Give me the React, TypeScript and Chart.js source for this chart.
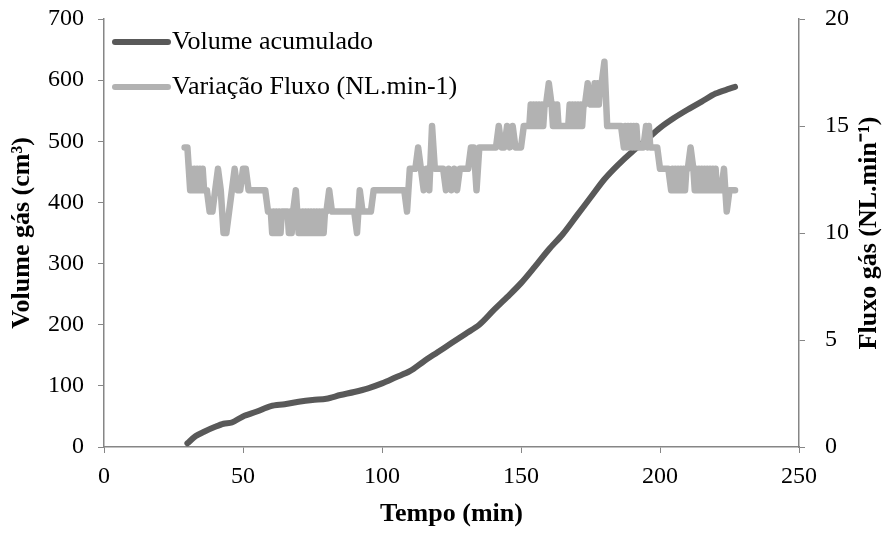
import React, { useEffect, useRef } from "react";
import { Chart, registerables } from "chart.js";

Chart.register(...registerables);

const FONT = "'Liberation Serif', 'Times New Roman', serif";

const volumeMinutes = [30, 33, 36, 40, 43, 46, 50, 55, 60, 65, 70, 75, 80, 85, 90, 95, 100, 105, 110, 115, 120, 125, 130, 135, 140, 145, 150, 155, 160, 165, 170, 175, 180, 185, 190, 195, 200, 205, 210, 215, 220, 225, 227];
const volumeValues = [6, 18, 25, 33, 38, 40, 50, 58, 67, 70, 74, 77, 79, 85, 90, 96, 104, 114, 124, 140, 155, 170, 185, 200, 223, 245, 268, 295, 323, 348, 378, 408, 438, 462, 483, 502, 522, 538, 552, 565, 578, 586, 589];

const flowMinutes = [
  29, 29.5, 30,
  30.5, 31, 31.5, 32, 32.5, 33, 33.5, 34, 34.5, 35, 35.5, 36,
  37, 38, 39, 40, 41, 42, 43, 44, 45, 46, 47, 48, 49, 50, 51, 52,
  53, 54, 55, 56, 57, 58, 59, 60,
  60.5, 61, 61.5, 62, 62.5, 63, 63.5, 64, 65, 66,
  66.5, 67, 67.5, 68, 69, 69.5, 70, 70.5, 71, 71.5, 72, 72.5, 73, 73.5, 74, 74.5, 75, 75.5, 76, 76.5, 77, 77.5, 78, 78.5, 79, 79.5, 80,
  81, 82, 83, 84, 85, 86, 87, 88, 89, 90, 91, 92, 93, 94, 95, 96, 97, 98, 99, 100, 101, 102, 103, 104, 105, 106, 107, 108, 109,
  110, 111, 112, 113, 114, 115, 116, 117, 118, 119, 120, 121, 122, 123, 124, 125, 126, 127, 128, 129, 130, 131,
  132, 133, 134, 135, 136, 137, 138, 139, 140, 141, 142, 143, 144, 145, 146, 147, 148, 149, 150,
  151, 152, 153,
  153.5, 154, 154.5, 155, 155.5, 156, 156.5, 157, 157.5, 158, 158.5, 159, 160, 161, 161.5, 162, 162.5, 163, 163.5, 164, 165, 166, 167,
  167.5, 168, 168.5, 169, 169.5, 170, 170.5, 171, 171.5, 172, 172.5, 173, 174, 175, 176, 176.5, 177, 177.5, 178, 178.5, 179, 180, 181,
  182, 183, 184, 185, 186, 187, 187.5, 188, 188.5, 189, 189.5, 190, 190.5, 191, 191.5, 192, 193, 194, 195, 195.5, 196, 196.5, 197, 198, 199, 200, 201, 202, 203,
  204, 204.5, 205, 205.5, 206, 206.5, 207, 207.5, 208, 208.5, 209, 209.5, 210, 211, 212, 212.5, 213, 213.5, 214, 214.5, 215, 215.5, 216, 216.5, 217, 217.5, 218, 218.5, 219, 219.5, 220, 220.5, 221, 222, 223, 224, 225, 226, 227
];
const flowValues = [
  14, 14, 14,
  13, 12, 13, 12, 13, 12, 13, 12, 13, 12, 13, 12,
  12, 11, 11, 12, 13, 12, 10, 10, 11, 12, 13, 12, 12, 13, 13, 12,
  12, 12, 12, 12, 12, 12, 11, 11,
  10, 11, 10, 11, 10, 11, 10, 11, 11, 11,
  10, 11, 10, 11, 12, 11, 10, 11, 10, 11, 10, 11, 10, 11, 10, 11, 10, 11, 10, 11, 10, 11, 10, 11, 10, 11, 11,
  12, 11, 11, 11, 11, 11, 11, 11, 11, 11, 10, 12, 11, 11, 11, 11, 12, 12, 12, 12, 12, 12, 12, 12, 12, 12, 12, 12, 11,
  13, 13, 13, 14, 13, 12, 13, 12, 15, 13, 13, 13, 13, 12, 13, 12, 13, 12, 13, 13, 13, 13,
  14, 14, 12, 14, 14, 14, 14, 14, 14, 14, 15, 14, 14, 15, 14, 15, 14, 14, 14,
  15, 15, 15,
  16, 15, 16, 15, 16, 15, 16, 15, 16, 15, 16, 16, 17, 16, 15, 16, 15, 16, 15, 15, 15, 15, 15,
  16, 15, 16, 15, 16, 15, 16, 15, 16, 15, 16, 16, 17, 16, 16, 17, 16, 17, 16, 17, 17, 18, 15,
  15, 15, 15, 15, 15, 14, 15, 14, 15, 14, 15, 14, 15, 14, 15, 14, 14, 14, 15, 14, 15, 14, 14, 14, 14, 13, 13, 13, 13,
  12, 13, 12, 13, 12, 13, 12, 13, 12, 13, 12, 13, 13, 14, 13, 12, 13, 12, 13, 12, 13, 12, 13, 12, 13, 12, 13, 12, 13, 12, 13, 12, 12, 12, 13, 11, 12, 12, 12
];

const volumeLabel = "Volume acumulado";
const flowLabel = "Variação Fluxo (NL.min-1)";
const xTitle = "Tempo (min)";
const yTitle = "Volume gás (cm³)";
const y1Title = "Fluxo gás (NL.min⁻¹)";

const DARK = "#595959";
const LIGHT = "#b2b2b2";
const AXIS = "#868686";

const legendPlugin = {
  id: "customLegend",
  afterDraw(chart: any) {
    const ctx = chart.ctx;
    const { left, top } = chart.chartArea;
    const items = [
      { label: volumeLabel, color: DARK, width: 6, dy: 23 },
      { label: flowLabel, color: LIGHT, width: 6, dy: 68 },
    ];
    ctx.save();
    ctx.font = `26px ${FONT}`;
    ctx.textBaseline = "middle";
    ctx.textAlign = "left";
    for (const it of items) {
      const y = top + it.dy;
      ctx.strokeStyle = it.color;
      ctx.lineWidth = it.width;
      ctx.lineCap = "round";
      ctx.beginPath();
      ctx.moveTo(left + 11, y);
      ctx.lineTo(left + 64, y);
      ctx.stroke();
      ctx.fillStyle = "#000";
      ctx.fillText(it.label, left + 68, y);
    }
    ctx.restore();
  },
};

const rightTitlePlugin = {
  id: "rightTitle",
  afterDraw(chart: any) {
    const ctx = chart.ctx;
    const { top, bottom } = chart.chartArea;
    ctx.save();
    ctx.translate(chart.width - 19, (top + bottom) / 2);
    ctx.rotate(-Math.PI / 2);
    ctx.font = `bold 26px ${FONT}`;
    ctx.fillStyle = "#000";
    ctx.textAlign = "center";
    ctx.textBaseline = "middle";
    ctx.fillText(y1Title, 0, 0);
    ctx.restore();
  },
};

function zeroVerticalPadding(scale: any) {
  scale.paddingTop = 0;
  scale.paddingBottom = 0;
}

export default function App() {
  const ref = useRef<HTMLCanvasElement | null>(null);

  useEffect(() => {
    if (!ref.current) return;
    const tickFont = { family: FONT, size: 24 };
    const titleFont = { family: FONT, size: 26, weight: "bold" as const };
    const chart = new Chart(ref.current, {
      type: "line",
      data: {
        datasets: [
          {
            label: volumeLabel,
            data: volumeMinutes.map((m, i) => ({ x: m, y: volumeValues[i] })),
            yAxisID: "y",
            borderColor: DARK,
            backgroundColor: DARK,
            borderWidth: 6,
            borderJoinStyle: "round",
            borderCapStyle: "round",
            pointRadius: 0,
            tension: 0.3,
            order: 2,
          },
          {
            label: flowLabel,
            data: flowMinutes.map((m, i) => ({ x: m, y: flowValues[i] })),
            yAxisID: "y1",
            borderColor: LIGHT,
            backgroundColor: LIGHT,
            borderWidth: 6.5,
            borderJoinStyle: "round",
            borderCapStyle: "round",
            pointRadius: 0,
            tension: 0,
            order: 1,
          },
        ],
      },
      options: {
        animation: false,
        responsive: false,
        maintainAspectRatio: false,
        layout: { padding: { top: 19, left: 0, right: 0, bottom: 0 } },
        plugins: { legend: { display: false }, tooltip: { enabled: false } },
        scales: {
          x: {
            type: "linear",
            position: "bottom",
            min: 0,
            max: 250,
            ticks: { stepSize: 50, font: tickFont, color: "#000", padding: 9, maxRotation: 0 },
            grid: { drawOnChartArea: false, drawTicks: true, tickLength: 6, color: AXIS },
            border: { color: AXIS, width: 1.5 },
            title: { display: true, text: xTitle, font: titleFont, color: "#000", padding: { top: 2, bottom: 3 } },
            afterFit(scale: any) {
              scale.height = 86;
              scale.paddingLeft = 0;
              scale.paddingRight = 0;
            },
          },
          y: {
            position: "left",
            min: 0,
            max: 700,
            ticks: { stepSize: 100, font: tickFont, color: "#000", padding: 14 },
            grid: { drawOnChartArea: false, drawTicks: true, tickLength: 6, color: AXIS },
            border: { color: AXIS, width: 1.5 },
            title: { display: true, text: yTitle, font: titleFont, color: "#000", padding: { top: 7, bottom: 0 } },
            afterFit(scale: any) {
              scale.width = 104;
              zeroVerticalPadding(scale);
            },
          },
          y1: {
            position: "right",
            min: 0,
            max: 20,
            ticks: { stepSize: 5, font: tickFont, color: "#000", padding: 20 },
            grid: { drawOnChartArea: false, drawTicks: true, tickLength: 6, color: AXIS },
            border: { color: AXIS, width: 1.5 },
            afterFit(scale: any) {
              scale.width = 89;
              zeroVerticalPadding(scale);
            },
          },
        },
      },
      plugins: [legendPlugin, rightTitlePlugin],
    });
    return () => chart.destroy();
  }, []);

  return (
    <div style={{ position: "fixed", left: 0, top: 0, width: 888, height: 533, background: "#fff" }}>
      <canvas ref={ref} width={888} height={533} style={{ width: 888, height: 533, display: "block" }} />
    </div>
  );
}
